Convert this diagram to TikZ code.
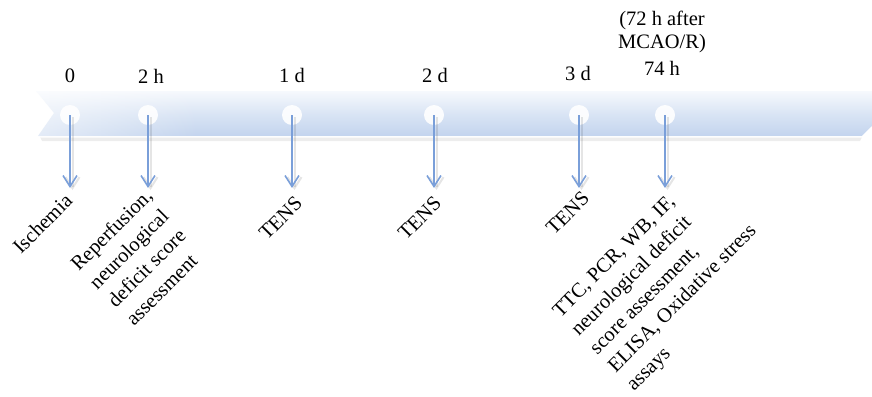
\documentclass[tikz,border=0pt]{standalone}
\usepackage{fontspec}
\setmainfont{Liberation Serif}
\usetikzlibrary{arrows.meta,fadings}
\definecolor{bartop}{HTML}{F6F9FD}
\definecolor{barbot}{HTML}{C3D4EE}
\definecolor{arrowblue}{HTML}{7A9FD9}
\tikzset{
  lbl/.style={font=\fontsize{20.5}{23}\selectfont, inner sep=0pt, align=center, text=black},
  rlbl/.style={font=\fontsize{20.5}{26}\selectfont, inner sep=0pt, align=left, text=black, rotate=45, anchor=base west},
  dot/.style={circle, fill=white, minimum size=20pt, inner sep=0pt, opacity=0.9},
  tl/.style={draw=arrowblue, line width=1.6pt, -{Straight Barb[length=11pt,width=14pt,line width=1.6pt]}},
  tlshadow/.style={draw=black, opacity=0.10, line width=2pt, -{Straight Barb[length=11pt,width=14pt,line width=2pt]}}
}
\begin{document}
\begin{tikzpicture}[x=1pt,y=-1pt]
\useasboundingbox (0,0) rectangle (872,396);
% bar shadow and highlight
\fill[black!7] (40,137) -- (862,137) -- (860,141) -- (42,141) -- cycle;
% timeline bar
\shade[top color=bartop, bottom color=barbot, middle color=barbot!55!bartop]
  (36,91) -- (872,91) -- (872,126) -- (862,136) -- (38,136) -- (54,113) -- cycle;
\draw[white, line width=1.2pt] (38,137) -- (862,137) -- (872,127);
% left fade
\fill[white, opacity=0.55, path fading=east] (34,90) rectangle (200,137);
% dots
\node[dot] (c0) at (70,115) {};
\node[dot] (c1) at (148,115) {};
\node[dot] (c2) at (292,115) {};
\node[dot] (c3) at (434,115) {};
\node[dot] (c4) at (579,115) {};
\node[dot] (c5) at (665,115) {};
% arrow tips
\coordinate (t0) at (70,188);
\coordinate (t1) at (148,188);
\coordinate (t2) at (292,188);
\coordinate (t3) at (434,188);
\coordinate (t4) at (579,188);
\coordinate (t5) at (665,188);
\foreach \i in {0,...,5}{
  \draw[tlshadow] ([shift={(2.5pt,-2pt)}]c\i.center) -- ([shift={(2.5pt,-2pt)}]t\i);
  \draw[tl] (c\i.center) -- (t\i);
}
% top labels
\node[lbl] (l0) at (70,76) {0};
\node[lbl] (l1) at (151,76) {2 h};
\node[lbl] (l2) at (292,75) {1 d};
\node[lbl] (l3) at (435,75) {2 d};
\node[lbl] (l4) at (578,73) {3 d};
\node[lbl] (l5) at (662,43) {(72 h after\\MCAO/R)\\[4pt]74 h};
% bottom labels (baseline start of last line)
\node[rlbl] (b0) at (21,255) {Ischemia};
\node[rlbl] (b1) at (134,327) {Reperfusion,\\neurological\\deficit score\\assessment};
\node[rlbl] (b2) at (267,241) {TENS};
\node[rlbl] (b3) at (406,241) {TENS};
\node[rlbl] (b4) at (554,236) {TENS};
\node[rlbl] (b5) at (634,392) {TTC, PCR, WB, IF,\\neurological deficit\\score assessment,\\ELISA, Oxidative stress\\assays};
\end{tikzpicture}
\end{document}
